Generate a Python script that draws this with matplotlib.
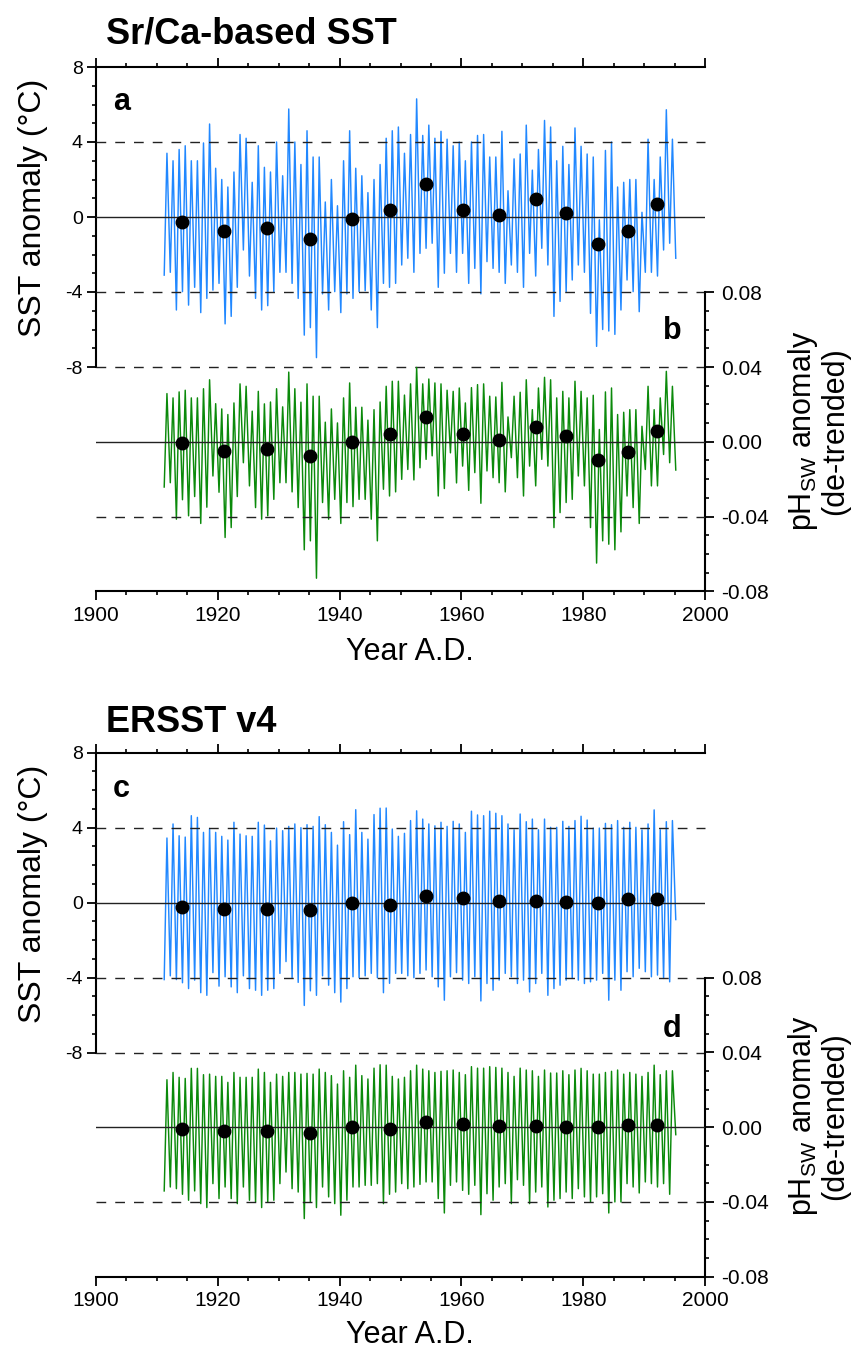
import numpy as np
import matplotlib
matplotlib.use('Agg')
import matplotlib.pyplot as plt
from matplotlib.ticker import MultipleLocator, FormatStrFormatter

plt.rcParams['font.family'] = ['Liberation Sans', 'DejaVu Sans']
plt.rcParams['axes.unicode_minus'] = False
plt.rcParams['mathtext.fontset'] = 'custom'
plt.rcParams['mathtext.rm'] = 'Liberation Sans'

# years of the seasonal cycle: one winter minimum per year (1911-1995),
# one summer maximum per year (1911-1994)
years = np.arange(1911, 1996)

# Sr/Ca-based SST anomaly (deg C)
sr_sst_max = [3.4, 3.0, 3.6, 3.8, 3.0, 3.0, 3.95, 4.96, 2.6, 2.0,
              1.6, 2.4, 4.4, 4.2, 1.85, 3.8, 2.65, 2.4, 4.0, 2.2,
              5.76, 4.0, 2.8, 4.6, 3.2, 3.2, 0.8, 2.0, 0.6, 3.0,
              4.6, 2.6, 2.2, 1.3, 2.0, 2.8, 4.2, 4.6, 4.8, 3.4,
              4.4, 6.3, 4.35, 4.9, 4.2, 4.57, 4.15, 3.8, 4.0, 3.0,
              4.0, 4.35, 4.4, 3.2, 3.2, 4.57, 1.4, 3.1, 3.36, 4.9,
              2.5, 3.6, 5.15, 4.8, 3.0, 3.77, 2.8, 4.75, 3.77, 3.36,
              3.2, -0.15, 3.55, 4.0, 1.6, 1.85, 2.0, 2.0, 0.25, 4.15,
              2.0, 3.2, 5.72, 4.15]
sr_sst_min = [-3.1, -2.95, -4.96, -3.98, -4.7, -3.75, -5.1, -4.34, -3.9, -3.54,
              -5.7, -5.3, -3.75, -1.76, -3.15, -4.34, -4.96, -4.73, -3.98, -2.95,
              -2.95, -3.54, -4.34, -6.3, -5.9, -7.5, -4.1, -4.96, -3.98, -5.1,
              -4.1, -4.34, -3.98, -3.93, -4.96, -5.9, -3.54, -3.75, -3.54, -2.56,
              -2.2, -2.95, -1.94, -1.67, -1.4, -3.75, -3.0, -1.94, -2.95, -1.94,
              -3.54, -2.74, -4.1, -2.38, -2.74, -2.95, -3.54, -2.56, -2.95, -3.75,
              -1.94, -3.15, -1.67, -2.56, -5.3, -4.5, -3.98, -3.36, -2.56, -2.95,
              -5.14, -6.9, -6.0, -6.08, -6.26, -4.96, -3.36, -3.98, -5.05, -2.95,
              -2.95, -3.15, -1.76, -1.4, -2.2]

# Sr/Ca-based pH_sw anomaly (de-trended)
sr_ph_max = [0.0258, 0.0235, 0.0267, 0.0276, 0.0235, 0.0235, 0.0284, 0.0332, 0.0204, 0.0176,
             0.0146, 0.0208, 0.031, 0.0297, 0.0164, 0.027, 0.0203, 0.0213, 0.0284, 0.0187,
             0.0373, 0.0284, 0.0212, 0.031, 0.0244, 0.0244, 0.0105, 0.0176, 0.0101, 0.0235,
             0.0315, 0.0185, 0.0185, 0.0116, 0.0172, 0.0213, 0.0297, 0.0324, 0.0324, 0.025,
             0.031, 0.0398, 0.031, 0.0336, 0.0315, 0.031, 0.0276, 0.027, 0.0288, 0.0208,
             0.029, 0.0306, 0.031, 0.0244, 0.024, 0.0318, 0.0133, 0.0244, 0.0265, 0.0332,
             0.0172, 0.0288, 0.0345, 0.0332, 0.0235, 0.027, 0.0235, 0.0324, 0.027, 0.0235,
             0.0249, 0.0066, 0.0267, 0.0288, 0.0146, 0.0158, 0.0172, 0.0172, 0.0083, 0.0297,
             0.0172, 0.0235, 0.0377, 0.0297]
sr_ph_min = [-0.0242, -0.0219, -0.0414, -0.031, -0.0396, -0.0293, -0.0437, -0.035, -0.0183, -0.027,
             -0.0512, -0.0459, -0.0293, -0.0112, -0.0236, -0.0352, -0.0414, -0.0396, -0.0308, -0.0219,
             -0.0219, -0.0268, -0.0352, -0.0578, -0.053, -0.073, -0.0325, -0.0414, -0.0308, -0.0437,
             -0.0325, -0.0347, -0.0308, -0.0308, -0.0414, -0.053, -0.0254, -0.029, -0.0268, -0.0201,
             -0.0148, -0.0204, -0.0139, -0.0094, -0.0075, -0.029, -0.025, -0.0059, -0.022, -0.013,
             -0.026, -0.0165, -0.0329, -0.0156, -0.0192, -0.0219, -0.0268, -0.0085, -0.0192, -0.029,
             -0.013, -0.0236, -0.0094, -0.013, -0.0459, -0.0379, -0.0325, -0.0308, -0.0183, -0.0236,
             -0.0459, -0.0649, -0.053, -0.0548, -0.0578, -0.0482, -0.029, -0.0352, -0.0437, -0.0148,
             -0.0236, -0.0236, -0.0068, -0.0112, -0.0151]

# ERSST v4 SST anomaly (deg C)
er_sst_max = [3.45, 4.2, 3.57, 3.5, 4.64, 4.55, 3.75, 3.96, 3.75, 3.54,
              3.34, 4.29, 3.66, 3.57, 3.54, 4.29, 4.14, 3.3, 3.98, 3.84,
              4.07, 4.2, 4.0, 4.16, 4.07, 4.59, 4.16, 3.75, 3.07, 4.32,
              3.63, 4.96, 3.75, 3.39, 4.7, 5.04, 5.05, 3.93, 3.54, 3.7,
              4.38, 4.9, 4.46, 4.2, 4.1, 4.29, 4.07, 4.34, 4.2, 3.75,
              4.88, 4.68, 4.64, 4.88, 4.77, 4.64, 4.2, 3.89, 4.73, 4.32,
              4.46, 3.89, 4.46, 4.02, 4.02, 4.34, 4.07, 4.38, 4.61, 4.41,
              3.98, 3.98, 4.23, 4.16, 4.38, 4.02, 4.29, 4.02, 3.88, 4.2,
              4.95, 3.89, 4.32, 4.38]
er_sst_min = [-4.1, -3.9, -4.1, -4.27, -4.58, -4.13, -4.8, -4.94, -3.73, -4.45,
              -3.95, -4.49, -4.8, -3.9, -4.58, -4.67, -4.94, -4.67, -4.58, -3.77,
              -3.14, -4.0, -4.25, -5.48, -4.7, -4.94, -3.9, -4.4, -4.8, -5.3,
              -4.58, -3.95, -4.0, -3.9, -3.77, -4.0, -4.8, -4.3, -3.77, -3.77,
              -3.9, -4.0, -3.77, -3.59, -3.95, -4.49, -5.2, -3.95, -3.73, -4.13,
              -4.31, -3.95, -5.24, -4.31, -4.67, -4.13, -3.77, -3.95, -4.31, -4.13,
              -4.76, -4.31, -3.77, -4.94, -4.58, -4.4, -4.13, -4.04, -4.13, -4.31,
              -4.22, -4.13, -3.77, -5.2, -4.13, -4.67, -3.68, -3.95, -3.5, -3.68,
              -3.95, -3.86, -4.04, -4.22, -0.9]

# ERSST v4 pH_sw anomaly (de-trended)
er_ph_max = [0.0254, 0.0293, 0.0267, 0.0261, 0.0315, 0.0315, 0.0281, 0.0284, 0.0272, 0.0272,
             0.024, 0.0293, 0.0267, 0.0267, 0.0267, 0.0311, 0.0293, 0.024, 0.0284, 0.0272,
             0.0293, 0.0293, 0.0284, 0.0288, 0.0284, 0.0311, 0.0293, 0.0276, 0.0231, 0.0302,
             0.0267, 0.0332, 0.0276, 0.0258, 0.0316, 0.0334, 0.0332, 0.0272, 0.0258, 0.0267,
             0.0302, 0.0332, 0.0311, 0.0302, 0.0293, 0.0299, 0.0302, 0.0306, 0.0293, 0.0281,
             0.0324, 0.0316, 0.0316, 0.0324, 0.032, 0.0316, 0.0293, 0.0272, 0.0316, 0.0306,
             0.0302, 0.0272, 0.0306, 0.029, 0.029, 0.0302, 0.0281, 0.0306, 0.0315, 0.0302,
             0.0284, 0.0284, 0.0293, 0.0299, 0.0306, 0.0284, 0.0293, 0.0284, 0.0272, 0.0293,
             0.0332, 0.0281, 0.0302, 0.0302]
er_ph_min = [-0.0341, -0.032, -0.0329, -0.0359, -0.0391, -0.0341, -0.0409, -0.043, -0.0302, -0.0382,
             -0.032, -0.0382, -0.0409, -0.032, -0.0391, -0.04, -0.043, -0.04, -0.0391, -0.0302,
             -0.024, -0.0329, -0.0347, -0.0489, -0.04, -0.043, -0.032, -0.0373, -0.0409, -0.0471,
             -0.0391, -0.032, -0.032, -0.0311, -0.0311, -0.0302, -0.0409, -0.0359, -0.0347, -0.0302,
             -0.0329, -0.032, -0.0306, -0.0293, -0.0293, -0.0382, -0.0459, -0.0311, -0.0293, -0.0338,
             -0.0359, -0.0311, -0.0468, -0.0356, -0.0391, -0.032, -0.0302, -0.0409, -0.0281, -0.0311,
             -0.0409, -0.0347, -0.032, -0.0427, -0.0391, -0.0382, -0.0347, -0.0382, -0.0329, -0.0373,
             -0.04, -0.0373, -0.0356, -0.0459, -0.04, -0.04, -0.0302, -0.032, -0.0352, -0.0293,
             -0.0302, -0.032, -0.0302, -0.0359, -0.004]

# multi-year means (black dots)
mean_years = [1914.1, 1921.1, 1928.1, 1935.1, 1942.1, 1948.2, 1954.2,
              1960.2, 1966.2, 1972.2, 1977.25, 1982.35, 1987.3, 1992.2]
sr_sst_mean = [-0.25, -0.75, -0.6, -1.17, -0.1, 0.36, 1.74, 0.36, 0.09, 0.98, 0.23, -1.42, -0.76, 0.68]
sr_ph_mean = [-0.0009, -0.005, -0.0041, -0.0078, 0.0, 0.004, 0.0133, 0.004, 0.001, 0.008, 0.0032, -0.01, -0.0052, 0.0059]
er_sst_mean = [-0.23, -0.34, -0.34, -0.41, 0.0, -0.12, 0.36, 0.25, 0.09, 0.09, 0.04, -0.02, 0.2, 0.22]
er_ph_mean = [-0.0012, -0.0021, -0.0021, -0.0032, 0.0, -0.001, 0.0027, 0.0016, 0.0007, 0.0007, 0.0002, 0.0, 0.0014, 0.0014]

BLUE = '#2188ff'
GREEN = '#0b8a0b'
W, H = 853, 1349


def seasonal(mins, maxs):
    t, v = [], []
    for i, yr in enumerate(years):
        t.append(yr + 0.2)
        v.append(mins[i])
        if i < len(maxs):
            t.append(yr + 0.65)
            v.append(maxs[i])
    return t, v


def rect(top, bottom):
    return [96 / W, 1 - bottom / H, (705 - 96) / W, (bottom - top) / H]


def panel(sst_top, ph_top, sst_min, sst_max, ph_min, ph_max, sst_mean, ph_mean,
          title, title_base, letters, lpos, xlab_y):
    ax_t = fig.add_axes(rect(sst_top, sst_top + 300))
    ax_p = fig.add_axes(rect(ph_top, ph_top + 299))
    for ax in (ax_t, ax_p):
        ax.set_xlim(1900, 2000)
        ax.patch.set_visible(False)
        ax.xaxis.set_major_locator(MultipleLocator(20))
        ax.xaxis.set_minor_locator(MultipleLocator(5))
        for s in ax.spines.values():
            s.set_linewidth(1.5)
        ax.tick_params(which='major', direction='out', length=6.5, width=1.3)
        ax.tick_params(which='minor', direction='out', length=3.2, width=1.2)
    ax_t.set_ylim(-8, 8)
    ax_p.set_ylim(-0.08, 0.08)
    ax_t.spines['right'].set_visible(False)
    ax_t.spines['bottom'].set_visible(False)
    ax_p.spines['left'].set_visible(False)
    ax_p.spines['top'].set_visible(False)

    ax_t.xaxis.set_ticks_position('top')
    ax_t.tick_params(axis='x', which='both', labeltop=False, labelbottom=False)
    ax_t.yaxis.set_major_locator(MultipleLocator(4))
    ax_t.yaxis.set_minor_locator(MultipleLocator(1))
    ax_t.yaxis.set_major_formatter(FormatStrFormatter('%d'))
    ax_t.tick_params(axis='y', labelsize=14, pad=3)

    ax_p.yaxis.set_ticks_position('right')
    ax_p.yaxis.set_major_locator(MultipleLocator(0.04))
    ax_p.yaxis.set_minor_locator(MultipleLocator(0.01))
    ax_p.yaxis.set_major_formatter(FormatStrFormatter('%.2f'))
    ax_p.tick_params(axis='y', labelsize=15, pad=5)
    ax_p.tick_params(axis='x', labelsize=15, pad=4)

    t, v = seasonal(sst_min, sst_max)
    ax_t.plot(t, v, color=BLUE, lw=1.05, zorder=2, clip_on=False)
    t, v = seasonal(ph_min, ph_max)
    ax_p.plot(t, v, color=GREEN, lw=1.05, zorder=2, clip_on=False)

    dash = (0, (7, 6.5))
    ax_t.axhline(0, color='#222222', lw=1.0, zorder=3)
    for y in (4, -4, -8):
        ax_t.axhline(y, color='#222222', lw=1.0, ls=dash, zorder=3, clip_on=False)
    ax_p.axhline(0, color='#222222', lw=1.0, zorder=3)
    ax_p.axhline(-0.04, color='#222222', lw=1.0, ls=dash, zorder=3)

    ax_t.plot(mean_years, sst_mean, 'o', color='k', ms=9, zorder=5)
    ax_p.plot(mean_years, ph_mean, 'o', color='k', ms=9, zorder=5)

    ax_t.text(-0.104, 0.53, 'SST anomaly (°C)', rotation=90, ha='center', va='center',
              fontsize=23, transform=ax_t.transAxes)
    ax_p.text(1.186, 0.537, '$\\mathregular{pH_{SW}}$ anomaly\n(de-trended)', rotation=90,
              ha='center', va='center', multialignment='center', linespacing=1.0,
              fontsize=22, transform=ax_p.transAxes)
    ax_p.text(0.516, xlab_y, 'Year A.D.', ha='center', va='baseline', fontsize=22,
              transform=ax_p.transAxes)

    ax_t.text(0.028, lpos[0], letters[0], fontsize=22, fontweight='bold',
              ha='left', va='center', transform=ax_t.transAxes)
    ax_p.text(0.962, lpos[1], letters[1], fontsize=22, fontweight='bold',
              ha='right', va='center', transform=ax_p.transAxes)

    fig.text(106 / W, 1 - title_base / H, title, fontsize=26, fontweight='bold', va='baseline')


fig = plt.figure(figsize=(W / 100, H / 100), dpi=100)

panel(67, 292.3, sr_sst_min, sr_sst_max, sr_ph_min, sr_ph_max, sr_sst_mean, sr_ph_mean,
      'Sr/Ca-based SST', 43.3, ('a', 'b'), (0.882, 0.869), -0.229)
panel(752.7, 977.7, er_sst_min, er_sst_max, er_ph_min, er_ph_max, er_sst_mean, er_ph_mean,
      'ERSST v4', 732.3, ('c', 'd'), (0.88, 0.828), -0.222)

fig.savefig('out.png', dpi=100)
